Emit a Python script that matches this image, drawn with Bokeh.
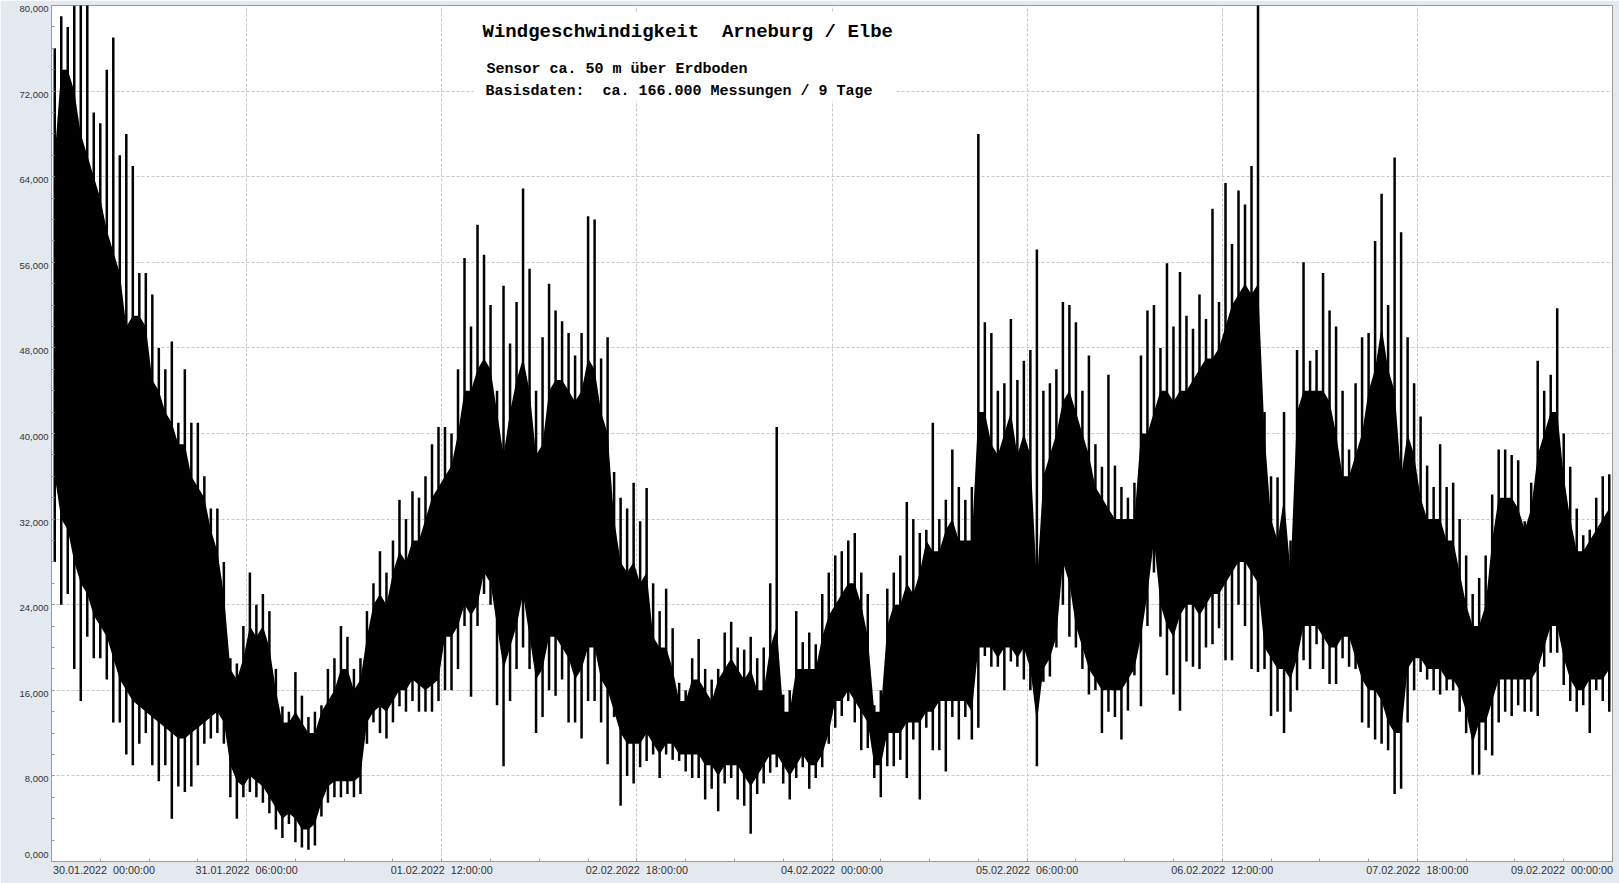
import pandas as pd
from bokeh.plotting import figure
from bokeh.models import Range1d, FixedTicker, Label, BoxAnnotation, ColumnDataSource, LinearAxis
from bokeh.embed import file_html
from bokeh.resources import INLINE

# ---------------- data (km/h, hourly bins) ----------------
start = pd.Timestamp("2022-01-30 00:00:00")
n_hours = 240
hour_starts = pd.date_range(start, periods=n_hours, freq="h")
bin_centers = hour_starts + pd.Timedelta(minutes=30)

# highest spike per hour
spike_high = [
    76, 79, 78, 80, 82, 82, 70, 69, 74, 77, 66, 68, 65, 55, 55, 53, 48, 46, 48.6, 41,
    46, 41, 41, 36, 33, 33, 28, 19, 18.5, 22, 27, 24, 25, 23.4, 18, 14.5, 14, 17.7, 15.5, 13.5,
    14, 14.6, 18, 19, 22, 21, 18, 19, 23.4, 26, 29, 27, 30, 33.8, 32, 34.6, 34, 36, 39, 40.6,
    40.6, 40, 46, 56.4, 50, 59.5, 56.7, 52, 44, 53.8, 48.4, 52.3, 62.9, 55.4, 44, 49, 54, 51.5, 50.5, 49.4,
    47.3, 49.4, 60.3, 60, 47, 49, 36.4, 34, 33, 35.4, 31.8, 34.9, 26, 23.4, 25.5, 21.8, 16.7, 16, 19, 20.8,
    18, 17, 18, 21.4, 22.4, 20, 19.8, 21, 19, 20, 26, 40.6, 15.6, 16, 23.4, 20.5, 21.4, 20.3, 25, 27,
    28.6, 29, 30, 30.7, 27, 25, 14.6, 16, 25.5, 27, 28.6, 33.6, 32, 30.7, 31, 41, 32, 33.8, 38.5, 35,
    33.8, 35, 68, 50.4, 49.4, 44, 44.7, 50.7, 45, 46.8, 47.8, 57.2, 44, 44.7, 46, 52.3, 52, 50.4, 44, 47.3,
    39, 36.9, 45.5, 37, 35, 34, 35.4, 47.3, 51.5, 52, 48, 55.9, 50, 55.1, 51, 49.8, 53, 50.7, 61, 52.3,
    63.4, 57.7, 62.7, 61.4, 65, 80.5, 42, 36, 35.9, 42, 30, 47.8, 56, 46.8, 47.8, 55, 51.5, 50, 44, 38.5,
    44.7, 49, 49.4, 58, 62.4, 52, 65.8, 58.8, 49, 44.7, 41.6, 37, 35, 39, 35, 35.4, 32, 28.6, 25, 26.5,
    28.6, 34.3, 38.5, 38.5, 38, 37.5, 31.8, 35.4, 46.8, 44, 45.5, 51.7, 40, 36.9, 33, 30.5, 31, 34, 36, 36.2,
]

# lowest spike per hour
spike_low = [
    28, 24, 25, 18, 15, 21, 19, 19, 17, 13, 13, 10, 9, 11, 12, 9, 7.5, 9, 4, 7,
    6.5, 7, 9, 11, 11.5, 12, 11, 6, 4, 6, 6.5, 6, 5.5, 4.5, 3, 2.2, 3.5, 1.8, 1.3, 1.1,
    1.5, 4.2, 5.5, 6, 6, 6.3, 6, 6.3, 11, 13, 12, 11.5, 13, 14.5, 14, 15, 14, 14, 14, 15,
    16, 16, 18, 22, 15.4, 22, 25, 24, 14.6, 8.9, 15, 18, 20, 18, 12, 13.5, 16, 15.5, 17, 13,
    13, 11.5, 15, 15, 13, 9.1, 13.5, 5.2, 8, 7.3, 8.8, 9.4, 10, 7.8, 10, 9.5, 9.4, 8.4, 7.8, 7.8,
    5.8, 6.8, 4.7, 7.3, 7.8, 5.8, 5.2, 2.6, 6.3, 7.3, 8.3, 8.8, 7.3, 5.8, 7.8, 8.8, 6.8, 7.8, 8.8, 11,
    12.5, 13.6, 15, 13, 10.4, 10.6, 7.8, 6, 8.9, 8.9, 9.5, 7.8, 11.4, 5.8, 12.5, 10.4, 10.4, 8.4, 13.5, 11.4,
    13.5, 11.4, 12.5, 19.2, 18.2, 18.2, 16, 18.7, 18.2, 17, 16, 8.9, 16.8, 17.3, 20, 24, 21, 20, 18, 15.6,
    16, 12, 14, 13.5, 11.4, 14.1, 17.4, 14.5, 22, 27, 21, 17.4, 15.6, 14.1, 18.7, 18.2, 18, 20, 20.3, 21.8,
    18.8, 18.8, 24, 22, 18, 17.7, 18, 13.6, 14, 12, 14, 16, 18.8, 18, 20.3, 18, 16.6, 16.6, 19, 18.2,
    18, 13, 12.5, 11.4, 11, 10.4, 6.3, 6.8, 13, 16, 17.7, 17, 16, 15.6, 16, 16, 14, 12, 8.1, 8.1,
    10.4, 9.9, 13, 14, 13.6, 14.6, 14, 14, 13.6, 18.2, 19.5, 19.5, 16.5, 15, 14, 14.6, 12, 16, 15, 14,
]

# upper edge of the dense black band per hour
core_top = [
    66, 74, 74, 72, 68, 66, 64, 62, 59, 57, 55, 50, 51, 51, 50, 45, 44, 42, 41, 39,
    39, 36, 35, 34, 31, 29, 25, 18, 17, 19, 22, 21, 22, 20, 16, 13, 13, 14, 13, 12,
    12, 14, 15, 16, 18, 18, 16, 17, 21, 24, 25, 24, 27, 29, 28, 30, 30, 32, 34, 35,
    36, 37, 40, 44, 44, 46, 47, 46, 42, 38, 42, 45, 47, 44, 38, 39, 44, 45, 45, 44,
    43, 44, 47, 46, 42, 40, 32, 28, 27, 28, 26, 27, 21, 20, 20, 18, 15, 15, 17, 17,
    16, 15, 17, 18, 19, 18, 17, 18, 16, 16, 20, 22, 14, 14, 18, 18, 18, 18, 21, 23,
    24, 25, 26, 26, 24, 21, 14, 14, 22, 24, 24, 26, 25, 27, 30, 29, 29, 31, 32, 30,
    30, 30, 42, 42, 39, 38, 40, 42, 38, 40, 38, 26, 36, 38, 40, 43, 44, 42, 40, 38,
    35, 34, 33, 32, 32, 32, 32, 40, 40, 42, 44, 44, 43, 44, 44, 45, 46, 47, 47, 48,
    50, 52, 53, 54, 53, 54, 40, 32, 30, 34, 27, 42, 44, 44, 44, 44, 43, 40, 36, 36,
    38, 40, 44, 46, 50, 46, 44, 36, 40, 38, 34, 32, 32, 32, 30, 30, 27, 24, 22, 22,
    24, 30, 34, 34, 34, 33, 31, 33, 38, 40, 42, 42, 36, 32, 29, 29, 30, 31, 32, 33,
]

# lower edge of the dense black band per hour
core_bottom = [
    36, 32, 31, 28, 26, 25, 23, 22, 21, 19, 17, 16, 15, 14.5, 14, 13.5, 13, 12.5, 12, 11.5,
    11.5, 12, 12.5, 13, 13.5, 14, 13, 9, 7.5, 7, 8, 7.5, 7, 6, 5, 4, 4.5, 4, 3, 3,
    3.5, 5.5, 7, 7.5, 7.5, 7.5, 7.5, 8, 13, 14, 14.5, 14, 15, 16, 16, 17, 16.5, 16, 16.5, 17,
    21, 21, 22, 24, 23, 24, 27, 26, 22, 18, 20, 22, 25, 21, 17, 18, 21, 21, 20, 19,
    17, 18, 20, 20, 17, 16, 14, 12, 11, 11, 11, 12, 11, 10, 11, 11, 10, 10, 10, 10,
    9, 9, 8, 9, 9, 9, 8, 7, 8, 9, 10, 10, 9, 8, 9, 10, 9, 9, 10, 12,
    15, 15, 16, 15, 14, 13, 9, 9, 12, 12, 12, 13, 13, 13, 14, 14, 15, 15, 15, 15,
    15, 14, 20, 20, 20, 19, 20, 20, 19, 20, 18, 13, 18, 19, 21, 28, 26, 22, 20, 18,
    17, 16, 16, 16, 16, 17, 18, 21, 25, 30, 24, 22, 21, 23, 24, 24, 23, 24, 25, 25,
    26, 27, 28, 28, 27, 26, 20, 19, 18, 18, 17, 19, 22, 22, 22, 21, 20, 20, 21, 21,
    19, 17, 16, 16, 15, 13, 12, 12, 18, 19, 19, 18, 18, 18, 17, 17, 16, 14, 11, 13,
    13, 15, 17, 17, 17, 17, 17, 17, 18, 20, 22, 22, 19, 17, 16, 16, 17, 17, 17, 18,
]

NB2 = " \u00a0"  # two visible spaces
x_tick_labels = [
    "30.01.2022" + NB2 + "00:00:00", "31.01.2022" + NB2 + "06:00:00", "01.02.2022" + NB2 + "12:00:00",
    "02.02.2022" + NB2 + "18:00:00", "04.02.2022" + NB2 + "00:00:00", "05.02.2022" + NB2 + "06:00:00",
    "06.02.2022" + NB2 + "12:00:00", "07.02.2022" + NB2 + "18:00:00", "09.02.2022" + NB2 + "00:00:00",
]
y_tick_values = [0, 8, 16, 24, 32, 40, 48, 56, 64, 72, 80]
y_tick_labels = ["0,000", "8,000", "16,000", "24,000", "32,000", "40,000",
                 "48,000", "56,000", "64,000", "72,000", "80,000"]

title_text = "Windgeschwindigkeit" + NB2 + "Arneburg / Elbe"
sub_text_1 = "Sensor ca. 50 m über Erdboden"
sub_text_2 = "Basisdaten:" + NB2 + "ca. 166.000 Messungen / 9 Tage"

# ---------------- helpers ----------------
def ms(ts):
    return int(ts.value // 10**6)

def at_hour(h):
    return ms(start + pd.Timedelta(hours=h))

x_major = [at_hour(30 * k) for k in range(len(x_tick_labels))]
x_minor = [at_hour(7.5 * k) for k in range(33)]
y_minor = list(range(0, 81, 2))

BG = "#E4E8EF"
AXIS = "#9A9A9A"
TXT = "#333333"
LABEL_FONT = "Liberation Sans"

W, H = 1619, 883
p = figure(
    width=W, height=H,
    x_axis_type="datetime",
    x_range=Range1d(x_major[0], x_major[-1]),
    y_range=Range1d(0, 80),
    output_backend="svg", toolbar_location=None,
    min_border_left=51, min_border_right=7, min_border_top=5, min_border_bottom=22,
)
p.background_fill_color = "white"
p.border_fill_color = BG
p.outline_line_color = AXIS

xt = FixedTicker(ticks=x_major, minor_ticks=x_minor)
yt = FixedTicker(ticks=y_tick_values, minor_ticks=y_minor)
p.xaxis.ticker = xt
p.yaxis.ticker = yt
p.xgrid.ticker = xt
p.ygrid.ticker = yt

p.grid.grid_line_color = "#C6C6C6"
p.grid.grid_line_dash = "3 2"
p.grid.grid_line_width = 1

# main axes: line + inside ticks only
for ax in (p.xaxis[0], p.yaxis[0]):
    ax.axis_line_color = AXIS
    ax.major_tick_line_color = AXIS
    ax.minor_tick_line_color = AXIS
    ax.major_tick_in = 3
    ax.major_tick_out = 0
    ax.minor_tick_in = 3
    ax.minor_tick_out = 0
    ax.major_label_text_font_size = "0px"
    ax.major_label_standoff = 0
p.xaxis.major_label_overrides = {t: "" for t in x_major}
p.yaxis.major_label_overrides = {v: "" for v in y_tick_values}

# frame geometry used to place the label-only axes
FRAME_PX_W = W - 51 - 7
FRAME_PX_H = H - 5 - 22
px_per_hour = FRAME_PX_W / 240.0
val_per_px = 80.0 / FRAME_PX_H

# x labels: first one flush left, last one flush right, others centred on their tick
half_w = 50.5
x_label_pos = [at_hour((2 + half_w) / px_per_hour)] + x_major[1:-1] + [at_hour(240 - half_w / px_per_hour)]
x_lab_axis = LinearAxis(
    ticker=FixedTicker(ticks=x_label_pos, minor_ticks=[]),
    major_label_overrides={x_label_pos[k]: x_tick_labels[k] for k in range(len(x_label_pos))},
    axis_line_color=None, major_tick_line_color=None, minor_tick_line_color=None,
    major_tick_out=0, major_tick_in=0, major_label_standoff=2,
    major_label_text_font=LABEL_FONT, major_label_text_font_size="10.8px",
    major_label_text_color=TXT,
)
p.add_layout(x_lab_axis, "below")

# y labels: slightly below their tick, bottom one lifted, like the original
y_shift = [7] + [-3.5] * (len(y_tick_values) - 1)
y_label_pos = [round(v + s * val_per_px, 4) for v, s in zip(y_tick_values, y_shift)]
y_lab_axis = LinearAxis(
    ticker=FixedTicker(ticks=y_label_pos, minor_ticks=[]),
    major_label_overrides={y_label_pos[k]: y_tick_labels[k] for k in range(len(y_label_pos))},
    axis_line_color=None, major_tick_line_color=None, minor_tick_line_color=None,
    major_tick_out=0, major_tick_in=0, major_label_standoff=3,
    major_label_text_font=LABEL_FONT, major_label_text_font_size="9.5px",
    major_label_text_color=TXT,
)
p.add_layout(y_lab_axis, "left")

# ---------------- data marks ----------------
src = ColumnDataSource(dict(t=bin_centers, hi=spike_high, lo=spike_low,
                            ct=core_top, cb=core_bottom))
p.varea(x="t", y1="cb", y2="ct", source=src, fill_color="black")
p.segment(x0="t", y0="lo", x1="t", y1="hi", source=src, line_color="black", line_width=2.5)

# ---------------- text block ----------------
p.add_layout(BoxAnnotation(left=at_hour(64.9), right=at_hour(129.6), bottom=71.12, top=79.35,
                           fill_color="white", fill_alpha=1.0, line_color=None))
p.add_layout(Label(x=at_hour(66.27), y=77.48, text=title_text, text_align="left",
                   text_baseline="middle", text_font="Liberation Mono", text_font_size="19px",
                   text_font_style="bold", text_color="black"))
p.add_layout(Label(x=at_hour(66.88), y=74.02, text=sub_text_1, text_align="left",
                   text_baseline="middle", text_font="Liberation Mono", text_font_size="15px",
                   text_font_style="bold", text_color="black"))
p.add_layout(Label(x=at_hour(66.73), y=71.96, text=sub_text_2, text_align="left",
                   text_baseline="middle", text_font="Liberation Mono", text_font_size="15px",
                   text_font_style="bold", text_color="black"))

open("out.html", "w").write(file_html(p, INLINE))
